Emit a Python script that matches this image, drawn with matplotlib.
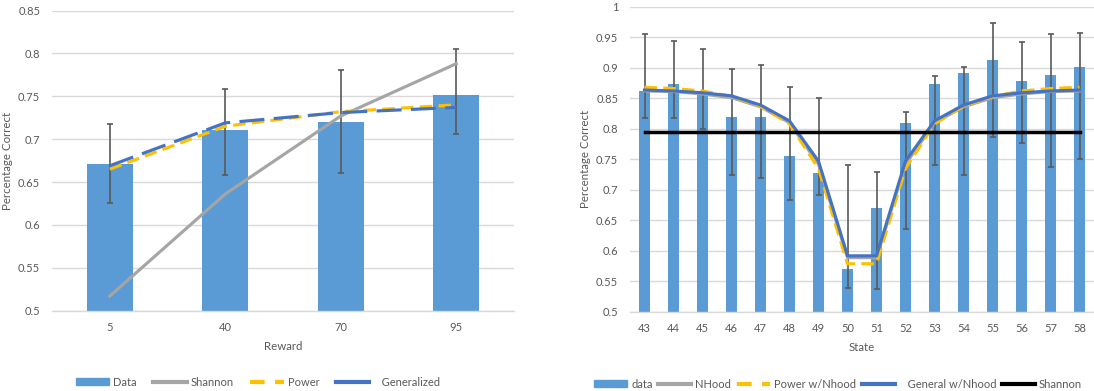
import numpy as np
import matplotlib
matplotlib.use("Agg")
import matplotlib.pyplot as plt
from matplotlib.patches import Patch
from matplotlib.lines import Line2D

plt.rcParams['font.family'] = ['Lato', 'DejaVu Sans']
plt.rcParams['font.size'] = 8
plt.rcParams['text.color'] = '#595959'

# reward experiment
rewards = ['5', '40', '70', '95']
reward_data = [0.671, 0.711, 0.720, 0.752]
reward_err_lo = [0.046, 0.053, 0.059, 0.046]
reward_err_hi = [0.047, 0.048, 0.061, 0.053]
reward_shannon = [0.517, 0.636, 0.727, 0.788]
reward_power = [0.665, 0.715, 0.732, 0.740]
reward_general = [0.669, 0.719, 0.731, 0.737]

# state experiment
states = ['43', '44', '45', '46', '47', '48', '49', '50',
          '51', '52', '53', '54', '55', '56', '57', '58']
state_data = [0.862, 0.874, 0.862, 0.820, 0.819, 0.755, 0.728, 0.570,
              0.670, 0.809, 0.874, 0.892, 0.913, 0.879, 0.888, 0.902]
state_err_top = [0.955, 0.944, 0.931, 0.898, 0.904, 0.869, 0.851, 0.741,
                 0.729, 0.828, 0.887, 0.902, 0.974, 0.942, 0.956, 0.957]
state_err_bot = [0.817, 0.817, 0.800, 0.725, 0.720, 0.684, 0.691, 0.539,
                 0.538, 0.636, 0.741, 0.725, 0.786, 0.777, 0.738, 0.750]
state_nhood = [0.862, 0.861, 0.857, 0.851, 0.836, 0.810, 0.742, 0.589,
               0.589, 0.742, 0.810, 0.836, 0.851, 0.857, 0.861, 0.862]
state_power = [0.868, 0.866, 0.862, 0.853, 0.837, 0.808, 0.735, 0.579,
               0.579, 0.735, 0.808, 0.837, 0.853, 0.862, 0.866, 0.868]
state_general = [0.8635, 0.862, 0.859, 0.854, 0.839, 0.813, 0.747, 0.592,
                 0.592, 0.747, 0.813, 0.839, 0.854, 0.859, 0.862, 0.8635]
state_shannon = [0.795] * 16

bar_col = '#5b9bd5'
blue = '#4472c4'
gold = '#ffc000'
grey = '#a5a5a5'
err_col = '#595959'
grid_col = '#d9d9d9'

W, H = 1094, 391
fig = plt.figure(figsize=(W / 100, H / 100), dpi=100)
ax1 = fig.add_axes([52 / W, 80.3 / H, 462 / W, 300.2 / H])
ax2 = fig.add_axes([630 / W, 79 / H, 464 / W, 305.3 / H])


def style(ax, ymin, ymax, n):
    ax.set_xlim(-0.5, n - 0.5)
    ax.set_ylim(ymin, ymax)
    ticks = np.round(np.arange(ymin, ymax + 0.001, 0.05), 2)
    ax.set_yticks(ticks)
    ax.set_yticklabels(['%g' % t for t in ticks])
    ax.grid(axis='y', color=grid_col, lw=1)
    ax.set_axisbelow(True)
    for s in ['top', 'right', 'left']:
        ax.spines[s].set_visible(False)
    ax.spines['bottom'].set_color(grid_col)
    ax.spines['bottom'].set_linewidth(1)
    ax.tick_params(length=0, colors='#595959', labelsize=8)
    ax.tick_params(axis='y', pad=8.5)
    ax.tick_params(axis='x', pad=8)


# left: reward
x1 = np.arange(len(rewards))
ax1.bar(x1, reward_data, width=0.4, color=bar_col, zorder=2)
ax1.errorbar(x1, reward_data, yerr=[reward_err_lo, reward_err_hi], fmt='none',
             ecolor=err_col, elinewidth=1.2, capsize=2.5, capthick=1.2, zorder=3)
ax1.plot(x1, reward_shannon, color=grey, lw=2.25, zorder=4)
ax1.plot(x1, reward_power, color=gold, lw=2.25, ls=(0, (4, 2)), zorder=5)
ax1.plot(x1, reward_general, color=blue, lw=2.25, ls=(0, (8, 3)), zorder=6)
style(ax1, 0.5, 0.85, len(rewards))
ax1.set_xticks(x1)
ax1.set_xticklabels(rewards)
ax1.set_xlabel('Reward', color='#595959', fontsize=8.3, va='top')
ax1.set_ylabel('Percentage Correct', color='#595959', fontsize=8.3)
ax1.xaxis.set_label_coords(0.5, -0.101)
ax1.yaxis.set_label_coords(-0.084, 0.5)

# right: state
x2 = np.arange(len(states))
d = np.array(state_data)
ax2.bar(x2, state_data, width=0.38, color=bar_col, zorder=2)
ax2.errorbar(x2, state_data,
             yerr=[d - np.array(state_err_bot), np.array(state_err_top) - d],
             fmt='none', ecolor=err_col, elinewidth=1.2, capsize=2.5,
             capthick=1.2, zorder=3)
ax2.plot(x2, state_nhood, color=grey, lw=2.25, zorder=4)
ax2.plot(x2, state_power, color=gold, lw=2.25, ls=(0, (4, 2)), zorder=5)
ax2.plot(x2, state_general, color=blue, lw=2.25, zorder=6)
ax2.plot(x2, state_shannon, color='black', lw=2.5, zorder=7)
style(ax2, 0.5, 1.0, len(states))
ax2.set_xticks(x2)
ax2.set_xticklabels(states)
ax2.set_xlabel('State', color='#595959', fontsize=8.3, va='top')
ax2.set_ylabel('Percentage Correct', color='#595959', fontsize=8.3)
ax2.xaxis.set_label_coords(0.5, -0.098)
ax2.yaxis.set_label_coords(-0.084, 0.5)

# legends
h1 = [Patch(color=bar_col),
      Line2D([], [], color=grey, lw=3),
      Line2D([], [], color=gold, lw=3, ls=(0, (3.5, 2.5))),
      Line2D([], [], color=blue, lw=3)]
fig.legend(h1, ['Data', 'Shannon', 'Power', '   Generalized'],
           loc='center', bbox_to_anchor=(258 / W, 1 - 382 / H), ncol=4,
           frameon=False, handlelength=3, handleheight=0.6,
           handletextpad=0.35, columnspacing=1.5, fontsize=8)

h2 = [Patch(color=bar_col),
      Line2D([], [], color=grey, lw=3),
      Line2D([], [], color=gold, lw=3, ls=(0, (3.5, 2.5))),
      Line2D([], [], color=blue, lw=3),
      Line2D([], [], color='black', lw=3)]
fig.legend(h2, ['data', 'NHood', 'Power w/Nhood', '   General w/Nhood', 'Shannon'],
           loc='center', bbox_to_anchor=(838 / W, 1 - 384 / H), ncol=5,
           frameon=False, handlelength=3, handleheight=0.6,
           handletextpad=0.35, columnspacing=0.5, fontsize=8)

fig.savefig('out.png', dpi=100)
